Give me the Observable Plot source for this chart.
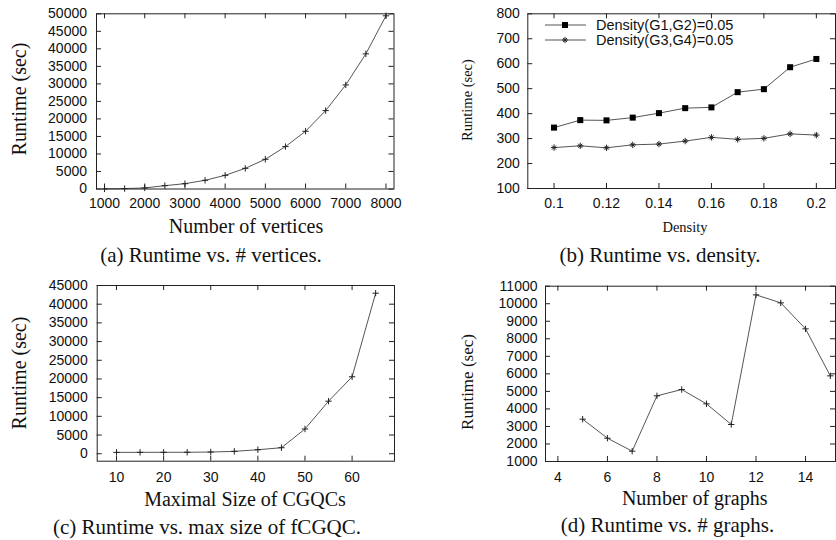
<!DOCTYPE html>
<html><head><meta charset="utf-8">
<script src="https://cdn.jsdelivr.net/npm/d3@7"></script>
<script src="https://cdn.jsdelivr.net/npm/@observablehq/plot@0.6"></script>
<style>
html,body{margin:0;padding:0;background:#fff;overflow:hidden;}
#root{position:relative;width:836px;height:540px;overflow:hidden;background:#fff;}
.p{position:absolute;}
.t{position:absolute;font-family:"Liberation Serif","Times New Roman",serif;color:#111;white-space:nowrap;transform:translate(-50%,-50%);line-height:1;}
.ty{transform:translate(-50%,-50%) rotate(-90deg);}
</style></head><body><div id="root"></div>
<script>
// ---- data ----
const vertices = [1000, 1500, 2000, 2500, 3000, 3500, 4000, 4500, 5000, 5500, 6000, 6500, 7000, 7500, 8000];
const runtimeVertices = [30, 120, 300, 950, 1520, 2480, 3900, 5900, 8480, 12100, 16480, 22380, 29700, 38570, 49430];

const density = [0.10, 0.11, 0.12, 0.13, 0.14, 0.15, 0.16, 0.17, 0.18, 0.19, 0.20];
const runtimeG1G2 = [344, 374, 373, 384, 402, 422, 425, 486, 498, 586, 619];
const runtimeG3G4 = [264, 271, 263, 275, 278, 290, 305, 297, 301, 319, 314];
const legendLabels = ["Density(G1,G2)=0.05", "Density(G3,G4)=0.05"];

const maxSize = [10, 15, 20, 25, 30, 35, 40, 45, 50, 55, 60, 65];
const runtimeMaxSize = [360, 370, 380, 390, 450, 630, 1070, 1610, 6620, 14050, 20580, 42940];

const numGraphs = [5, 6, 7, 8, 9, 10, 11, 12, 13, 14, 15];
const runtimeGraphs = [3415, 2330, 1590, 4745, 5107, 4290, 3110, 10506, 10050, 8567, 5886];

const ticksA_x = [1000, 2000, 3000, 4000, 5000, 6000, 7000, 8000];
const ticksA_y = [0, 5000, 10000, 15000, 20000, 25000, 30000, 35000, 40000, 45000, 50000];
const ticksB_x = [0.1, 0.12, 0.14, 0.16, 0.18, 0.2];
const ticksB_y = [100, 200, 300, 400, 500, 600, 700, 800];
const ticksC_x = [10, 20, 30, 40, 50, 60];
const ticksC_y = [0, 5000, 10000, 15000, 20000, 25000, 30000, 35000, 40000, 45000];
const ticksD_x = [4, 6, 8, 10, 12, 14];
const ticksD_y = [1000, 2000, 3000, 4000, 5000, 6000, 7000, 8000, 9000, 10000, 11000];

const root = document.getElementById("root");
const LINE = "#555", MARK = "#222", FRAME = "#222";
const PLUS_R = 2.2, TIMES_R = 2.0;

function rows(xs, ys) { return xs.map((x, i) => ({x, y: ys[i]})); }

function panel(o) {
  const ml = o.fl - o.left, mr = o.left + o.W - o.fr, mt = o.ft - o.top, mb = o.top + o.H - o.fb;
  const pw = o.fr - o.fl, ph = o.fb - o.ft, tl = 5;
  const fmt = d => String(d);
  const chart = Plot.plot({
    width: o.W, height: o.H,
    marginLeft: ml, marginRight: mr, marginTop: mt, marginBottom: mb,
    x: {domain: o.xDomain},
    y: {domain: o.yDomain},
    style: {fontFamily: "'Liberation Sans', Arial, sans-serif", fontSize: "14px", color: "#111", background: "transparent", overflow: "visible"},
    marks: [
      Plot.axisX(o.xTicks, {anchor: "bottom", tickSize: 0, tickPadding: o.xPad, tickFormat: fmt, label: null}),
      Plot.axisY(o.yTicks, {anchor: "left", tickSize: 0, tickPadding: o.yPad, tickFormat: fmt, label: null}),
      Plot.tickY(o.yTicks, {y: d => d, insetRight: pw - tl, stroke: FRAME}),
      Plot.tickY(o.yTicks, {y: d => d, insetLeft: pw - tl, stroke: FRAME}),
      Plot.tickX(o.xTicks, {x: d => d, insetTop: ph - tl, stroke: FRAME}),
      Plot.tickX(o.xTicks, {x: d => d, insetBottom: ph - tl, stroke: FRAME}),
      ...o.marks,
      Plot.frame({stroke: FRAME, strokeWidth: 1})
    ]
  });
  const div = document.createElement("div");
  div.className = "p";
  div.style.left = o.left + "px"; div.style.top = o.top + "px";
  div.style.width = o.W + "px"; div.style.height = o.H + "px";
  div.appendChild(chart);
  root.appendChild(div);
}

function label(text, x, y, size, vertical) {
  const d = document.createElement("div");
  d.className = "t" + (vertical ? " ty" : "");
  d.textContent = text;
  d.style.left = x + "px"; d.style.top = y + "px"; d.style.fontSize = size + "px";
  root.appendChild(d);
}

// (a)
const dataA = rows(vertices, runtimeVertices);
panel({left: 0, top: 0, W: 420, H: 215, fl: 96, fr: 393.5, ft: 13.3, fb: 188.5,
  xDomain: [800, 8200], yDomain: [0, 50000], xTicks: ticksA_x, yTicks: ticksA_y, xPad: 9.5, yPad: 9.5,
  marks: [
    Plot.line(dataA, {x: "x", y: "y", stroke: LINE, strokeWidth: 1}),
    Plot.dot(dataA, {x: "x", y: "y", symbol: "plus", r: PLUS_R, stroke: MARK, strokeWidth: 1})
  ]});

// (b)
const dataB1 = rows(density, runtimeG1G2);
const dataB2 = rows(density, runtimeG3G4);
panel({left: 420, top: 0, W: 416, H: 215, fl: 527.3, fr: 835, ft: 13.3, fb: 188,
  xDomain: [0.09, 0.2073], yDomain: [100, 800], xTicks: ticksB_x, yTicks: ticksB_y, xPad: 10, yPad: 8,
  marks: [
    Plot.line(dataB1, {x: "x", y: "y", stroke: LINE, strokeWidth: 1}),
    Plot.dot(dataB1, {x: "x", y: "y", symbol: "square", r: 3.4, fill: "#000", stroke: "none"}),
    Plot.line(dataB2, {x: "x", y: "y", stroke: LINE, strokeWidth: 1}),
    Plot.dot(dataB2, {x: "x", y: "y", symbol: "plus", r: PLUS_R, stroke: MARK, strokeWidth: 1}),
    Plot.dot(dataB2, {x: "x", y: "y", symbol: "times", r: TIMES_R, stroke: MARK, strokeWidth: 1})
  ]});

// (c)
const dataC = rows(maxSize, runtimeMaxSize);
panel({left: 0, top: 270, W: 420, H: 215, fl: 96.7, fr: 394, ft: 285, fb: 460.7,
  xDomain: [5.9, 69], yDomain: [-2000, 45000], xTicks: ticksC_x, yTicks: ticksC_y, xPad: 10.5, yPad: 9.5,
  marks: [
    Plot.line(dataC, {x: "x", y: "y", stroke: LINE, strokeWidth: 1}),
    Plot.dot(dataC, {x: "x", y: "y", symbol: "plus", r: PLUS_R, stroke: MARK, strokeWidth: 1})
  ]});

// (d)
const dataD = rows(numGraphs, runtimeGraphs);
panel({left: 420, top: 270, W: 416, H: 215, fl: 545, fr: 835, ft: 285.7, fb: 461,
  xDomain: [3.5, 15.21], yDomain: [1000, 11000], xTicks: ticksD_x, yTicks: ticksD_y, xPad: 10.5, yPad: 8,
  marks: [
    Plot.line(dataD, {x: "x", y: "y", stroke: LINE, strokeWidth: 1}),
    Plot.dot(dataD, {x: "x", y: "y", symbol: "plus", r: PLUS_R, stroke: MARK, strokeWidth: 1})
  ]});

// legend for (b)
const lg = d3.select(root).append("svg").attr("width", 836).attr("height", 540)
  .style("position", "absolute").style("left", 0).style("top", 0).style("pointer-events", "none");
[25, 40].forEach((yy, i) => {
  lg.append("line").attr("x1", 545).attr("x2", 586).attr("y1", yy).attr("y2", yy).attr("stroke", LINE);
  if (i === 0) {
    lg.append("path").attr("d", d3.symbol(d3.symbolSquare, Math.PI * 3.4 * 3.4)()).attr("transform", `translate(565,${yy})`).attr("fill", "#000");
  } else {
    lg.append("path").attr("d", d3.symbol(d3.symbolPlus, Math.PI * PLUS_R * PLUS_R)()).attr("transform", `translate(565,${yy})`).attr("fill", "none").attr("stroke", MARK);
    lg.append("path").attr("d", d3.symbol(d3.symbolTimes, Math.PI * TIMES_R * TIMES_R)()).attr("transform", `translate(565,${yy})`).attr("fill", "none").attr("stroke", MARK);
  }
  lg.append("text").attr("x", 596).attr("y", yy).attr("dy", "0.36em").attr("font-family", "'Liberation Sans', Arial, sans-serif")
    .attr("font-size", 14.5).attr("fill", "#111").text(legendLabels[i]);
});

// axis titles and captions
label("Runtime (sec)", 19, 99, 20, true);
label("Number of vertices", 246, 226, 20);
label("(a) Runtime vs. # vertices.", 211, 255, 21);

label("Runtime (sec)", 467, 100, 14.5, true);
label("Density", 685, 227, 14.5);
label("(b) Runtime vs. density.", 660, 255, 21);

label("Runtime (sec)", 19, 372.5, 20, true);
label("Maximal Size of CGQCs", 245, 499, 20);
label("(c) Runtime vs. max size of fCGQC.", 207, 527, 21);

label("Runtime (sec)", 466.7, 381.7, 17, true);
label("Number of graphs", 694.7, 498, 20);
label("(d) Runtime vs. # graphs.", 667.5, 525, 21);
</script></body></html>
